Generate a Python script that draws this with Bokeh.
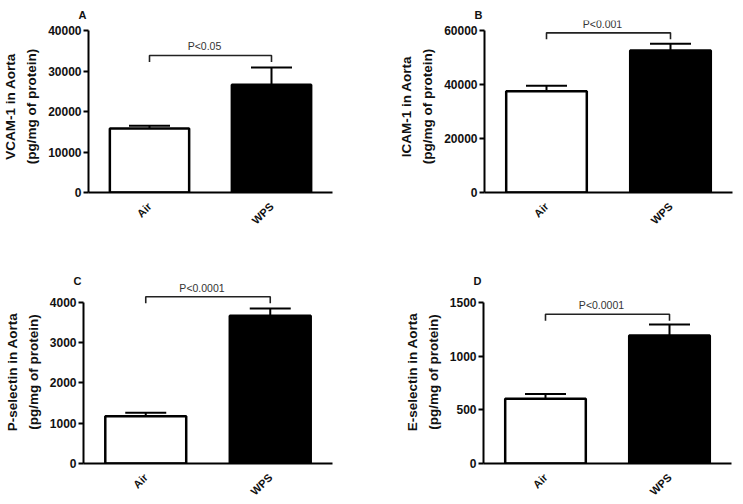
import math
from bokeh.plotting import figure
from bokeh.layouts import column, row
from bokeh.models import (FactorRange, Range1d, FixedTicker, NumeralTickFormatter,
                          Whisker, TeeHead, ColumnDataSource)
from bokeh.embed import file_html
from bokeh.resources import INLINE
from bokeh.core.properties import value

# ---------------- data ----------------
categories = ["Air", "WPS"]

vcam_mean = [15800, 26600]
vcam_sem = [660, 4260]
icam_mean = [37500, 52600]
icam_sem = [2000, 2500]
psel_mean = [1175, 3670]
psel_sem = [85, 180]
esel_mean = [602, 1191]
esel_sem = [46, 102]

vcam_ticks = [0, 10000, 20000, 30000, 40000]
icam_ticks = [0, 20000, 40000, 60000]
psel_ticks = [0, 1000, 2000, 3000, 4000]
esel_ticks = [0, 500, 1000, 1500]

panel_letters = ["A", "B", "C", "D"]
y_titles = [
    "VCAM-1 in Aorta\n(pg/mg of protein)",
    "ICAM-1 in Aorta\n(pg/mg of protein)",
    "P-selectin in Aorta\n(pg/mg of protein)",
    "E-selectin in Aorta\n(pg/mg of protein)",
]
p_texts = ["P<0.05", "P<0.001", "P<0.0001", "P<0.0001"]
bracket_y = [33830, 59130, 4138, 1389]

FONT = "Liberation Sans"
TICK_PX = 162  # pixel span from 0 to the top tick


def make_panel(letter, ytitle, means, sems, ticks, ptext, by,
               width, height, bl, br, bt, bb, title_standoff):
    frame_h = height - bt - bb
    top = ticks[-1]
    y_end = frame_h / TICK_PX * top
    px = top / TICK_PX  # data units per pixel

    p = figure(x_range=FactorRange(*categories), y_range=Range1d(0, y_end),
               width=width, height=height, toolbar_location=None,
               output_backend="svg", min_border_left=bl, min_border_right=br,
               min_border_top=bt, min_border_bottom=bb)
    p.xgrid.grid_line_color = None
    p.ygrid.grid_line_color = None
    p.outline_line_color = None
    p.background_fill_color = "white"
    p.border_fill_color = "white"

    # panel letter
    p.title.text = letter
    p.title.align = "left"
    p.title.offset = -10
    p.title.standoff = title_standoff
    p.title.text_font = FONT
    p.title.text_font_style = "bold"
    p.title.text_font_size = "11px"
    p.title.text_color = "#111"

    ya = p.yaxis[0]
    ya.ticker = FixedTicker(ticks=ticks)
    ya.formatter = NumeralTickFormatter(format="0")
    ya.bounds = (0, top)
    ya.axis_line_width = 2
    ya.axis_line_color = "black"
    ya.major_tick_line_width = 2
    ya.major_tick_out = 5
    ya.major_tick_in = 0
    ya.minor_tick_line_color = None
    ya.major_label_text_font = FONT
    ya.major_label_text_font_style = "bold"
    ya.major_label_text_font_size = "12px"
    ya.major_label_text_color = "#111"
    ya.major_label_standoff = 2
    ya.axis_label = ytitle
    ya.axis_label_standoff = 6
    ya.axis_label_text_font = FONT
    ya.axis_label_text_font_style = "bold"
    ya.axis_label_text_font_size = "13.5px"
    ya.axis_label_text_color = "#111"
    ya.axis_label_text_line_height = 1.4

    xa = p.xaxis[0]
    xa.axis_line_width = 2
    xa.axis_line_color = "black"
    xa.major_tick_line_color = None
    xa.minor_tick_line_color = None
    xa.major_label_orientation = math.pi / 4
    xa.major_label_text_font = FONT
    xa.major_label_text_font_style = "bold"
    xa.major_label_text_font_size = "11px"
    xa.major_label_text_color = "#111"
    xa.major_label_standoff = 6

    src = ColumnDataSource(dict(
        cat=categories,
        mean=means,
        upper=[m + s for m, s in zip(means, sems)],
        fill=["white", "black"],
    ))
    p.vbar(x="cat", top="mean", width=0.65, fill_color="fill",
           line_color="black", line_width=2.5, source=src)
    w = Whisker(source=src, base="cat", lower="mean", upper="upper",
                dimension="height", line_width=2, line_color="black",
                upper_head=TeeHead(size=41, line_width=2, line_color="black"),
                lower_head=None)
    p.add_layout(w)

    leg = 6.5 * px
    p.line(x=[categories[0], categories[0], categories[1], categories[1]],
           y=[by - leg, by, by, by - leg], line_width=1.6, line_color="#222")
    p.text(x=[1.0], y=[by], text=[ptext], x_offset=-6, y_offset=-3,
           text_align="center", text_baseline="bottom",
           text_font=value(FONT), text_font_size="10.5px", text_color="#333")
    return p


pA = make_panel(panel_letters[0], y_titles[0], vcam_mean, vcam_sem, vcam_ticks,
                p_texts[0], bracket_y[0], 370, 250, 83, 38, 20, 58, 0)
pB = make_panel(panel_letters[1], y_titles[1], icam_mean, icam_sem, icam_ticks,
                p_texts[1], bracket_y[1], 373, 250, 114, 11, 20, 58, 0)
pC = make_panel(panel_letters[2], y_titles[2], psel_mean, psel_sem, psel_ticks,
                p_texts[2], bracket_y[2], 370, 254, 83, 38, 30, 40, -12)
pD = make_panel(panel_letters[3], y_titles[3], esel_mean, esel_sem, esel_ticks,
                p_texts[3], bracket_y[3], 373, 254, 113, 12, 30, 40, -12)

layout = column(row(pA, pB), row(pC, pD))
open("out.html", "w").write(file_html(layout, INLINE))
